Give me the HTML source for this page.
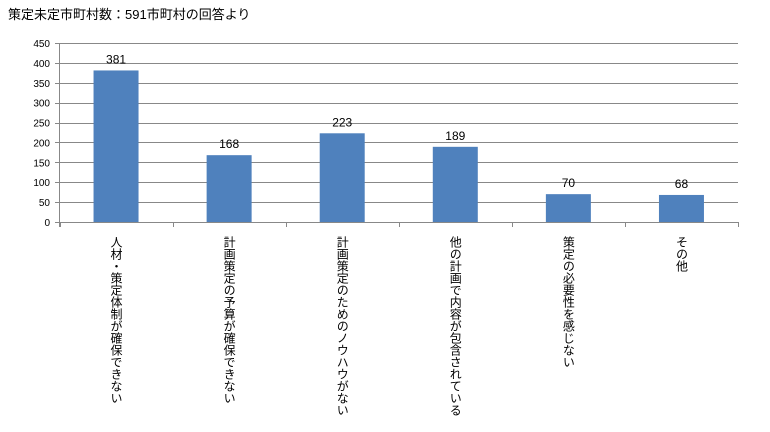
<!DOCTYPE html>
<html><head><meta charset="utf-8"><style>
body{margin:0;background:#fff;width:770px;height:432px;overflow:hidden;font-family:"Liberation Sans","Noto Sans CJK JP",sans-serif}
</style></head><body>
<svg width="770" height="432" style="position:absolute;left:0;top:0">
<text x="8" y="19" font-size="13" fill="#000">策定未定市町村数：591市町村の回答より</text>
<g id="grid"></g><g id="bars"></g><g id="labels"></g>
</svg>
<script>
const categories=["人材・策定体制が確保できない","計画策定の予算が確保できない","計画策定のためのノウハウがない","他の計画で内容が包含されている","策定の必要性を感じない","その他"];
const values=[381,168,223,189,70,68];
const ticks=[0,50,100,150,200,250,300,350,400,450];
const NS="http://www.w3.org/2000/svg";
const x0=59.5,x1=738,yTop=43,yBot=222,maxV=450;
const y=v=>yBot-(v/maxV)*(yBot-yTop);
const cw=(x1-x0)/categories.length;
const g=document.getElementById('grid'),b=document.getElementById('bars'),l=document.getElementById('labels');
function mk(t,a,p){const e=document.createElementNS(NS,t);for(const k in a)e.setAttribute(k,a[k]);p.appendChild(e);return e;}
ticks.forEach(t=>{
 const ln=mk('line',{x1:55,x2:x1,y1:Math.round(y(t))+0.5,y2:Math.round(y(t))+0.5,stroke:t===0?'#888':'#888','stroke-width':1},g);
 
 
 const tx=mk('text',{x:50,y:y(t)+4,'font-size':10,'text-anchor':'end',fill:'#000'},g);tx.textContent=t;
 
 
});
mk('line',{x1:x0,x2:x0,y1:yTop,y2:yBot+5,stroke:'#888'},g);
for(let i=0;i<=categories.length;i++){const xx=Math.round(x0+i*cw)+0.5;mk('line',{x1:xx,x2:xx,y1:yBot,y2:yBot+5,stroke:'#888'},g);}
categories.forEach((c,i)=>{
 const cx=x0+cw*(i+0.5),v=values[i];
 const r=mk('rect',{x:cx-22.5,y:y(v),width:45,height:yBot-y(v),fill:'#4f81bd'},b);
 
 
 const vt=mk('text',{x:cx,y:y(v)-7,'font-size':12,'text-anchor':'middle',fill:'#000'},b);vt.textContent=v;
 
 
 const ct=mk('text',{x:cx,y:236,'font-size':12,fill:'#000','writing-mode':'tb','glyph-orientation-vertical':0,style:'writing-mode:vertical-rl'},l);ct.textContent=c;
 
 
});
</script>
</body></html>
